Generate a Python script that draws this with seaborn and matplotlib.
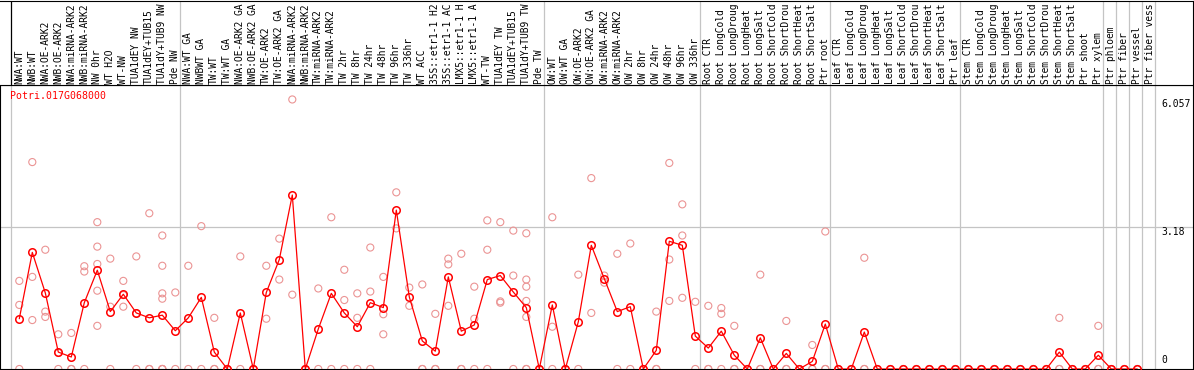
import numpy as np
import pandas as pd
import matplotlib
matplotlib.use('Agg')
import matplotlib.pyplot as plt
import seaborn as sns

# sample names, as far as they are visible in the header
samples = [
    'NWA:WT', 'NWB:WT', 'NWA:OE-ARK2', 'NWB:OE-ARK2', 'NWA:miRNA-ARK2', 'NWB:miRNA-ARK2',
    'NW 0hr', 'WT H2O', 'WT-NW', 'TUA1dEY NW', 'TUA1dEY+TUB15', 'TUA1dY+TUB9 NW', 'Pde NW',
    'NWA:WT GA', 'NWBWT GA', 'TW:WT', 'TW:WT GA', 'NWA:OE-ARK2 GA', 'NWB:OE-ARK2 GA',
    'TW:OE-ARK2', 'TW:OE-ARK2 GA', 'NWA:miRNA-ARK2', 'NWB:miRNA-ARK2', 'TW:miRNA-ARK2',
    'TW:miRNA-ARK2', 'TW 2hr', 'TW 8hr', 'TW 24hr', 'TW 48hr', 'TW 96hr', 'TW 336hr',
    'WT ACC', '35S::etr1-1 H2', '35S::etr1-1 AC', 'LMX5::etr1-1 H', 'LMX5::etr1-1 A',
    'WT-TW', 'TUA1dEY TW', 'TUA1dEY+TUB15', 'TUA1dY+TUB9 TW', 'Pde TW',
    'OW:WT', 'OW:WT GA', 'OW:OE-ARK2', 'OW:OE-ARK2 GA', 'OW:miRNA-ARK2', 'OW:miRNA-ARK2',
    'OW 2hr', 'OW 8hr', 'OW 24hr', 'OW 48hr', 'OW 96hr', 'OW 336hr',
    'Root CTR', 'Root LongCold', 'Root LongDroug', 'Root LongHeat', 'Root LongSalt',
    'Root ShortCold', 'Root ShortDrou', 'Root ShortHeat', 'Root ShortSalt', 'Ptr root',
    'Leaf CTR', 'Leaf LongCold', 'Leaf LongDroug', 'Leaf LongHeat', 'Leaf LongSalt',
    'Leaf ShortCold', 'Leaf ShortDrou', 'Leaf ShortHeat', 'Leaf ShortSalt', 'Ptr leaf',
    'Stem CTR', 'Stem LongCold', 'Stem LongDroug', 'Stem LongHeat', 'Stem LongSalt',
    'Stem ShortCold', 'Stem ShortDrou', 'Stem ShortHeat', 'Stem ShortSalt', 'Ptr shoot',
    'Ptr xylem', 'Ptr phloem', 'Ptr fiber', 'Ptr vessel', 'Ptr fiber vess',
]

# mean expression per sample (red line)
means = [
    1.13, 2.62, 1.71, 0.38, 0.27, 1.49, 2.22, 1.29, 1.68, 1.26, 1.15, 1.21, 0.86,
    1.15, 1.61, 0.38, 0, 1.26, 0, 1.72, 2.46, 3.91, 0, 0.90, 1.70, 1.26, 0.95,
    1.49, 1.38, 3.57, 1.62, 0.63, 0.40, 2.07, 0.85, 0.99, 2.01, 2.10, 1.73, 1.38, 0,
    1.44, 0, 1.06, 2.78, 2.03, 1.29, 1.40, 0, 0.42, 2.87, 2.78, 0.74,
    0.47, 0.85, 0.31, 0, 0.70, 0, 0.35, 0, 0.17, 1.01,
    0, 0, 0.83, 0, 0, 0, 0, 0, 0, 0,
    0, 0, 0, 0, 0, 0, 0, 0.38, 0, 0,
    0.31, 0, 0, 0, np.nan,
]

# individual replicates (light red circles)
replicates = [
    [1.98, 1.44, 0], [4.65, 2.07, 1.10], [2.68, 1.29, 1.17], [0.78, 0.36, 0], [0.81, 0, 0],
    [2.31, 2.19, 0], [3.30, 2.75, 2.36, 1.76, 0.97], [2.48, 1.40, 0], [1.98, 1.66, 1.40],
    [2.53, 1.25, 0], [3.50, 0, 0], [3.00, 2.32, 1.70, 1.58, 0, 0, 0], [1.72, 0],
    [2.32, 0], [3.21, 0], [1.15, 0, 0], [0, 0, 0], [2.53, 0], [0, 0], [2.32, 1.13],
    [2.93, 2.01], [6.057, 1.67], [0, 0], [1.81, 0], [3.41, 0], [2.23, 1.55, 0],
    [1.70, 1.15, 0], [2.73, 1.74, 0], [2.07, 1.23, 0.78], [3.97, 3.16], [1.83, 1.42],
    [1.90, 0, 0], [1.24, 0, 0], [2.48, 2.35, 1.42], [2.59, 0, 0], [1.85, 1.13, 0],
    [3.34, 2.68, 0], [3.30, 1.52, 1.49], [3.11, 2.10, 0], [3.05, 2.01, 1.85, 1.53, 1.17, 0, 0],
    [0, 0], [3.41, 0.95, 0], [0, 0], [2.12, 0], [4.29, 1.26], [2.10, 1.94], [2.59, 0],
    [2.82, 0], [0, 0], [1.29, 0, 0], [4.63, 2.46, 1.53], [3.70, 3.00, 1.60], [1.51, 0],
    [1.42, 0, 0], [1.37, 1.24, 0], [0.97, 0, 0], [0, 0], [2.12, 0, 0], [0, 0], [1.08, 0, 0],
    [0, 0], [0.54, 0, 0], [3.09, 0, 0],
    [0, 0], [0, 0], [2.50, 0, 0], [0, 0], [0, 0], [0, 0], [0, 0], [0, 0], [0, 0], [0, 0],
    [0, 0], [0, 0], [0, 0], [0, 0], [0, 0], [0, 0], [0, 0], [1.15, 0, 0], [0, 0], [0, 0],
    [0.97, 0, 0], [0, 0], [0, 0], [0, 0], [],
]

# last sample index of each group (vertical separators)
group_ends = [12, 40, 52, 62, 72, 83, 84, 85, 86, 87]
y_ticks = [6.057, 3.18, 0]
gene = 'Potri.017G068000'

df_mean = pd.DataFrame({'pos': np.arange(len(samples)), 'expr': means})
df_rep = pd.DataFrame(
    [(i, v) for i, reps in enumerate(replicates) for v in reps], columns=['pos', 'expr']
)

sns.set_style('white')
plt.rcParams['font.family'] = ['DejaVu Sans Mono']

W, H = 1194, 370
fig = plt.figure(figsize=(W / 100, H / 100), dpi=100)
x_lim = (-19.3 / 13, (W - 1 - 19.3) / 13)
ppu = 44.5  # pixels per unit of expression

ax = fig.add_axes([0, 1 / H, (W - 1) / W, 284 / H])
head = fig.add_axes([0, 285 / H, (W - 1) / W, 84.5 / H])

for a in (ax, head):
    a.set_xlim(*x_lim)
    a.set_xticks([])
    a.set_yticks([])
    for s in a.spines.values():
        s.set_color('black')
        s.set_linewidth(0.8)
    for e in group_ends:
        a.axvline(e + 0.38, color='#c4c4c4', lw=0.9, zorder=0)

ax.set_ylim(0, 284 / ppu)
head.set_ylim(0, 1)
head.spines['left'].set_visible(False)
head.axvline(-0.62, color='black', lw=0.9)
ax.axvline(-0.62, color='#c4c4c4', lw=0.9, zorder=0)
ax.axhline(y_ticks[1], color='#c4c4c4', lw=0.9, zorder=0)

sns.scatterplot(data=df_rep, x='pos', y='expr', ax=ax, marker='o', s=26,
                facecolor='none', edgecolor='#eb9494', linewidth=0.8, zorder=2)
sns.lineplot(data=df_mean, x='pos', y='expr', ax=ax, color='red', lw=0.9,
             errorbar=None, marker='o', markersize=5.4, markerfacecolor='none',
             markeredgecolor='red', markeredgewidth=1.1, zorder=3)
ax.set_xlabel('')
ax.set_ylabel('')

for i, name in enumerate(samples):
    head.text(i, 0.015, name, rotation=90, ha='center', va='bottom',
              fontsize=6.9, color='black', clip_on=True)

for v in y_ticks:
    ax.text(len(samples) - 0.12, v + (0.1 if v == 0 else 0), str(v),
            ha='left', va='bottom' if v == 0 else 'top', fontsize=7.0, color='black')

ax.text(0.0084, 0.962, gene, transform=ax.transAxes, ha='left', va='center',
        fontsize=7.1, color='red')

fig.savefig('out.png', dpi=100)
